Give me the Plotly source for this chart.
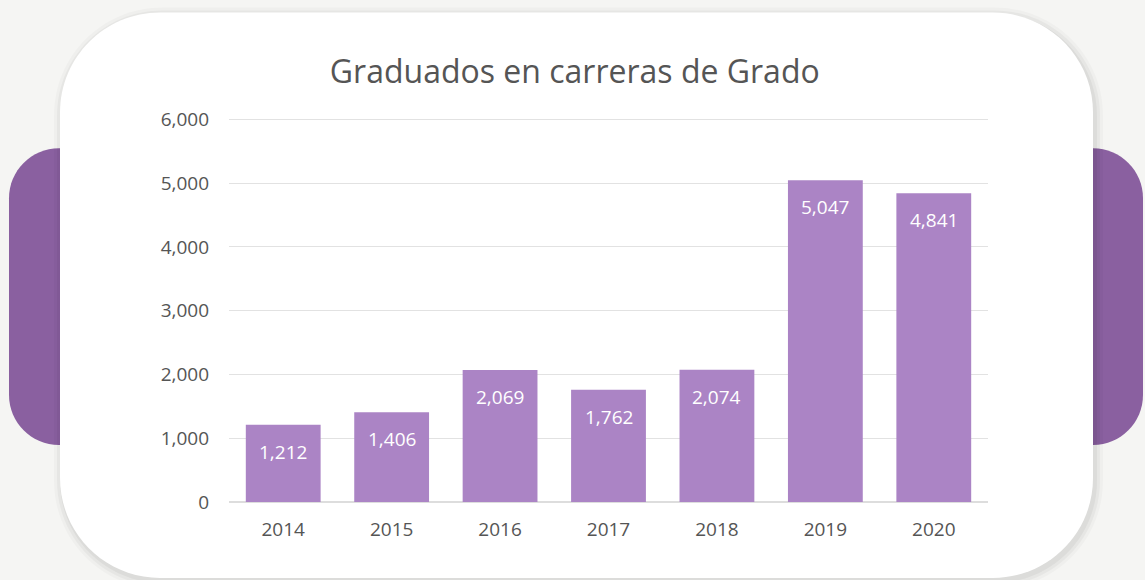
import plotly.graph_objects as go

# data
years = ['2014', '2015', '2016', '2017', '2018', '2019', '2020']
graduados = [1212, 1406, 2069, 1762, 2074, 5047, 4841]
y_ticks = [0, 1000, 2000, 3000, 4000, 5000, 6000]

W, H = 1145, 580
YMAX = 6100
# plot area in pixels (6000 gridline sits at y=119, 0 at y=502)
L, R, B = 229, 988, 502
T = B - YMAX * (B - 119) / 6000


def px_to_paper(x, y):
    return (x - L) / (R - L), (B - y) / (B - T)


def rounded_rect(x0, y0, x1, y1, r):
    # rounded rectangle built in pixels, converted to paper coords
    k = 0.5523 * r
    pts = [
        ('M', [(x0 + r, y0)]),
        ('L', [(x1 - r, y0)]),
        ('C', [(x1 - r + k, y0), (x1, y0 + r - k), (x1, y0 + r)]),
        ('L', [(x1, y1 - r)]),
        ('C', [(x1, y1 - r + k), (x1 - r + k, y1), (x1 - r, y1)]),
        ('L', [(x0 + r, y1)]),
        ('C', [(x0 + r - k, y1), (x0, y1 - r + k), (x0, y1 - r)]),
        ('L', [(x0, y0 + r)]),
        ('C', [(x0, y0 + r - k), (x0 + r - k, y0), (x0 + r, y0)]),
    ]
    s = ''
    for cmd, pp in pts:
        s += cmd + ' '.join('%.5f,%.5f' % px_to_paper(a, b) for a, b in pp) + ' '
    return s + 'Z'


shapes = []
# purple blocks behind the card
for x0, x1 in [(9, 140), (1005, 1143)]:
    shapes.append(dict(type='path', path=rounded_rect(x0, 148, x1, 445, 50),
                       xref='paper', yref='paper', fillcolor='#8a60a0',
                       line=dict(width=0), layer='below'))
# soft shadow
for i, a in enumerate([0.025, 0.035, 0.045]):
    g = 8 - i * 3
    shapes.append(dict(type='path',
                       path=rounded_rect(60 - g + 2, 12 - g + 3, 1093 + g + 2, 578 + g + 3, 100 + g),
                       xref='paper', yref='paper', fillcolor='rgba(0,0,0,%s)' % a,
                       line=dict(width=0), layer='below'))
# white card
shapes.append(dict(type='path', path=rounded_rect(60, 12, 1093, 578, 100),
                   xref='paper', yref='paper', fillcolor='white',
                   line=dict(width=0), layer='below'))

fig = go.Figure()
fig.add_trace(go.Bar(x=years, y=graduados, marker=dict(color='#ab84c5', line=dict(width=0)),
                     hoverinfo='x+y'))

# value labels inside the top of each bar (x = category index)
for i, v in enumerate(graduados):
    fig.add_annotation(x=i, y=v, text=f'{v:,}', showarrow=False, yanchor='middle',
                       yshift=-27, font=dict(color='white', size=19))

fig.update_layout(
    width=W, height=H,
    margin=dict(l=L, r=W - R, t=T, b=H - B),
    paper_bgcolor='#f5f5f3',
    plot_bgcolor='rgba(0,0,0,0)',
    font=dict(family='Open Sans, sans-serif', color='#555555', size=19),
    title=dict(text='Graduados en carreras de Grado', x=0.502, xanchor='center',
               y=1 - 72 / H, yanchor='middle', font=dict(size=32, color='#555555')),
    bargap=0.31,
    shapes=shapes,
    showlegend=False,
)
fig.update_xaxes(type='category', range=[-0.5, len(years) - 0.5], showgrid=False,
                 showline=False, ticks='', ticklabelstandoff=14, tickfont=dict(size=19))
fig.update_yaxes(range=[0, YMAX], tickvals=y_ticks, tickformat=',', gridcolor='#e2e2e2',
                 zeroline=True, zerolinecolor='#dddddd', zerolinewidth=1.5,
                 ticks='', ticklabelstandoff=19, tickfont=dict(size=19))

fig.write_html("out.html", config={'displayModeBar': False},
               post_script="document.body.style.margin='0';")
